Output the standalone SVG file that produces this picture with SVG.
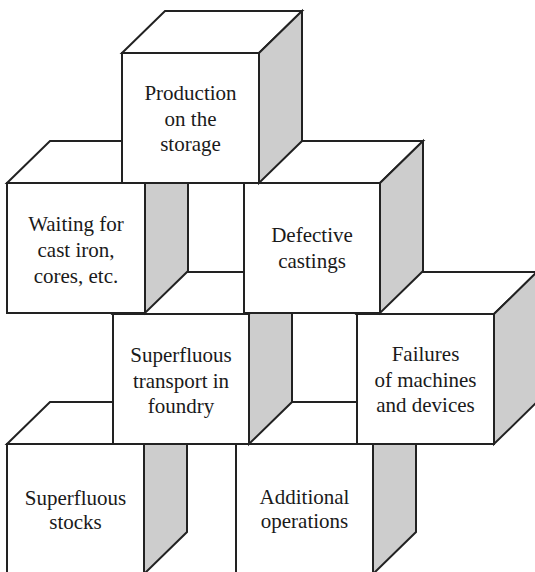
<svg xmlns="http://www.w3.org/2000/svg" width="535" height="572" viewBox="0 0 535 572">
<rect width="535" height="572" fill="#ffffff"/>
<g stroke="#222222" stroke-width="2" stroke-linejoin="miter">
<g id="stocks">
<polygon fill="#ffffff" points="7,444 50,402 187,402 144,444"/>
<polygon fill="#cdcdcd" points="144,444 187,402 187,532 144,574"/>
<rect fill="#ffffff" x="7" y="444" width="137" height="130"/>
<g font-family="Liberation Serif, serif" font-size="21" text-anchor="middle" fill="#1a1a1a" stroke="none"><text x="75.5" y="505">Superfluous</text><text x="75.5" y="529">stocks</text></g>
</g>
<g id="additional">
<polygon fill="#ffffff" points="236,444 279,402 416,402 373,444"/>
<polygon fill="#cdcdcd" points="373,444 416,402 416,532 373,574"/>
<rect fill="#ffffff" x="236" y="444" width="137" height="130"/>
<g font-family="Liberation Serif, serif" font-size="21" text-anchor="middle" fill="#1a1a1a" stroke="none"><text x="304.5" y="504">Additional</text><text x="304.5" y="528">operations</text></g>
</g>
<g id="transport">
<polygon fill="#ffffff" points="113,314 156,272 292,272 249,314"/>
<polygon fill="#cdcdcd" points="249,314 292,272 292,402 249,444"/>
<rect fill="#ffffff" x="113" y="314" width="136" height="130"/>
<g font-family="Liberation Serif, serif" font-size="21" text-anchor="middle" fill="#1a1a1a" stroke="none"><text x="181" y="362">Superfluous</text><text x="181" y="388">transport in</text><text x="181" y="413">foundry</text></g>
</g>
<g id="failures">
<polygon fill="#ffffff" points="357,314 400,272 537,272 494,314"/>
<polygon fill="#cdcdcd" points="494,314 537,272 537,402 494,444"/>
<rect fill="#ffffff" x="357" y="314" width="137" height="130"/>
<g font-family="Liberation Serif, serif" font-size="21" text-anchor="middle" fill="#1a1a1a" stroke="none"><text x="425.5" y="361">Failures</text><text x="425.5" y="387">of machines</text><text x="425.5" y="412">and devices</text></g>
</g>
<g id="waiting">
<polygon fill="#ffffff" points="7,183 50,141 188,141 145,183"/>
<polygon fill="#cdcdcd" points="145,183 188,141 188,271 145,313"/>
<rect fill="#ffffff" x="7" y="183" width="138" height="130"/>
<g font-family="Liberation Serif, serif" font-size="21" text-anchor="middle" fill="#1a1a1a" stroke="none"><text x="76" y="231">Waiting for</text><text x="76" y="257">cast iron,</text><text x="76" y="283">cores, etc.</text></g>
</g>
<g id="defective">
<polygon fill="#ffffff" points="244,183 287,141 423,141 380,183"/>
<polygon fill="#cdcdcd" points="380,183 423,141 423,271 380,313"/>
<rect fill="#ffffff" x="244" y="183" width="136" height="130"/>
<g font-family="Liberation Serif, serif" font-size="21" text-anchor="middle" fill="#1a1a1a" stroke="none"><text x="312" y="242">Defective</text><text x="312" y="268">castings</text></g>
</g>
<g id="production">
<polygon fill="#ffffff" points="122,53 165,11 302,11 259,53"/>
<polygon fill="#cdcdcd" points="259,53 302,11 302,141 259,183"/>
<rect fill="#ffffff" x="122" y="53" width="137" height="130"/>
<g font-family="Liberation Serif, serif" font-size="21" text-anchor="middle" fill="#1a1a1a" stroke="none"><text x="190.5" y="100">Production</text><text x="190.5" y="126">on the</text><text x="190.5" y="151">storage</text></g>
</g>
</g>
<g id="connectors"></g>
</svg>
